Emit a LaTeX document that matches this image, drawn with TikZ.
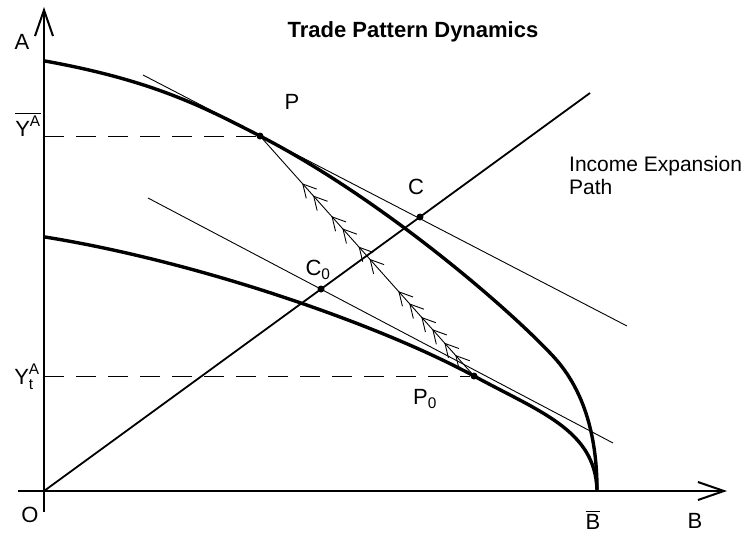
\documentclass[tikz,border=0pt]{standalone}
\usepackage{amsmath}
\usepackage{fontspec}
\setmainfont{Liberation Sans}
\usetikzlibrary{arrows.meta,decorations.markings}

\newcommand{\dblchev}{\arrow{Straight Barb[length=13pt,width=14pt,line width=0.9pt,sep=2pt] Straight Barb[length=13pt,width=14pt,line width=0.9pt]}}

\begin{document}
\begin{tikzpicture}[x=1pt,y=-1pt,
    axis/.style={line width=2.4pt,-{Straight Barb[length=26pt,width=18pt,line width=2pt]}},
    ppf/.style={line width=3.4pt,line join=round,line cap=round},
    thinline/.style={line width=0.9pt},
    guide/.style={line width=1pt,dash pattern=on 20pt off 12pt},
    dot/.style={circle,fill,inner sep=0pt,minimum size=7pt},
    lbl/.style={font=\fontsize{22}{24}\selectfont,inner sep=0pt}]
    \useasboundingbox (0,0) rectangle (746,538);

    % Axes
    \coordinate (O) at (44,491);
    \coordinate (ybot) at (44,512);
    \coordinate (ytop) at (44,7);
    \coordinate (xleft) at (18,491);
    \coordinate (xright) at (727,491);
    \draw[axis] (ybot) -- (ytop);
    \draw[axis] (xleft) -- (xright);

    % Points of production and consumption
    \node[dot] (P) at (260,136) {};
    \node[dot] (C) at (420,217) {};
    \node[dot] (C0) at (321,289) {};
    \node[dot] (P0) at (474,376) {};

    % Production possibility frontiers
    \coordinate (A1) at (45,61);
    \coordinate (A0) at (45,237);
    \coordinate (Bbar) at (597,490);
    \draw[ppf] (A1) .. controls (150,80) and (200,105) .. (P.center)
        .. controls (380,198) and (505,305) .. (552,355)
        .. controls (590,395) and (597,450) .. (Bbar);
    \draw[ppf] (A0) .. controls (200,262) and (380,325) .. (P0.center)
        .. controls (540,412) and (595,430) .. (Bbar);

    % Income expansion path
    \coordinate (iep) at (590,93);
    \draw[line width=1.8pt] (O) -- (iep);

    % Price lines
    \coordinate (pa) at (143,75);
    \coordinate (pb) at (627,326);
    \draw[thinline] (pa) -- (pb);
    \coordinate (qa) at (148,198);
    \coordinate (qb) at (613,443);
    \draw[thinline] (qa) -- (qb);

    % Guide lines
    \coordinate (yA) at (44,136);
    \coordinate (yt) at (44,376);
    \draw[guide] (yA) -- (P);
    \draw[guide] (yt) -- (P0);

    % Adjustment path
    \draw[thinline,postaction={decorate},decoration={markings,
        mark=at position 0.13 with {\dblchev},
        mark=at position 0.24 with {\dblchev},
        mark=at position 0.35 with {\dblchev},
        mark=at position 0.54 with {\dblchev},
        mark=at position 0.67 with {\dblchev},
        mark=at position 0.81 with {\dblchev}}] (P0) -- (P);

    % Labels
    \node[font=\bfseries\fontsize{22}{24}\selectfont] (title) at (413,32) {Trade Pattern Dynamics};
    \node[font=\fontsize{21}{23}\selectfont, inner sep=0pt, align=left, anchor=north west] (iepLabel) at (569,156) {Income Expansion\\Path};
    \node[lbl] (lA) at (22,42) {A};
    \node[lbl] (lO) at (30,515) {O};
    \node[lbl] (lB) at (695,521) {B};
    \node[lbl] (lBbar) at (593,520) {$\overline{\text{B}}$};
    \node[lbl] (lYA) at (28,124) {$\overline{\text{Y}^{\text{A}}}$};
    \node[lbl] (lYt) at (27,377) {$\text{Y}^{\text{A}}_{\text{t}}$};
    \node[lbl] (lP) at (292,102) {P};
    \node[lbl] (lC) at (416,187) {C};
    \node[lbl] (lC0) at (318,270) {$\text{C}_{\text{0}}$};
    \node[lbl] (lP0) at (425,399) {$\text{P}_{\text{0}}$};
\end{tikzpicture}
\end{document}
